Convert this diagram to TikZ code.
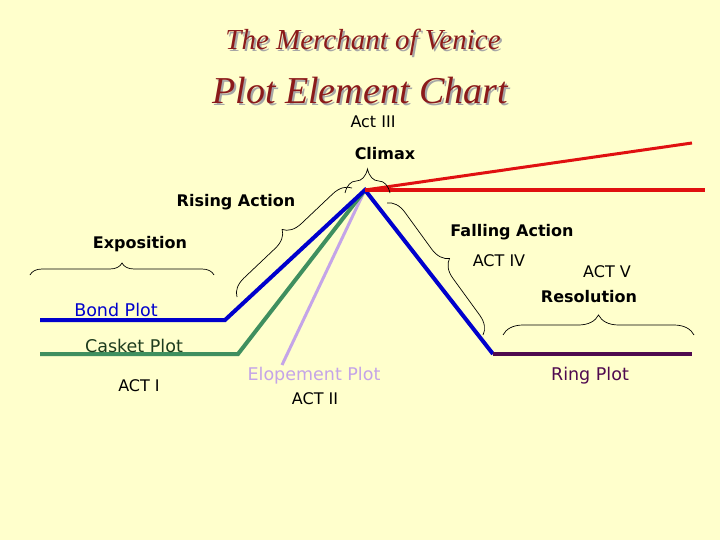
\documentclass[tikz,border=0pt]{standalone}
\usepackage{fontspec}
\setmainfont{DejaVu Sans}
\newfontfamily\titlefont{Liberation Serif}
\usetikzlibrary{decorations.pathreplacing}

\definecolor{paper}{HTML}{FFFFCC}
\definecolor{titlered}{HTML}{8B1A1A}
\definecolor{bondblue}{HTML}{0000CC}
\definecolor{casketgreen}{HTML}{3F8F5F}
\definecolor{casketdark}{HTML}{1E3C1E}
\definecolor{elopelilac}{HTML}{C4A4E8}
\definecolor{ringpurple}{HTML}{4F0A4F}
\definecolor{climaxred}{HTML}{E01010}

\begin{document}
\begin{tikzpicture}[x=1pt,y=-1pt,
  plot/.style={line width=4pt},
  bracket/.style={decorate,decoration={brace,amplitude=#1},line width=0.7pt},
  stage/.style={font=\bfseries\fontsize{16}{18}\selectfont},
  act/.style={font=\fontsize{16}{18}\selectfont},
  plotname/.style={font=\fontsize{17.5}{20}\selectfont}]

\fill[paper] (0,0) rectangle (720,540);

% titles
\node (merchant shadow) at (365,44) [text=black!35,font=\titlefont\itshape\fontsize{29}{32}\selectfont] {The Merchant of Venice};
\node (merchant) at (363,42) [text=titlered,font=\titlefont\itshape\fontsize{29}{32}\selectfont] {The Merchant of Venice};
\node (chart shadow) at (362,93) [text=black!35,font=\titlefont\itshape\fontsize{38}{42}\selectfont] {Plot Element Chart};
\node (chart) at (360,91) [text=titlered,font=\titlefont\itshape\fontsize{38}{42}\selectfont] {Plot Element Chart};

% plot lines
\coordinate (peak) at (365,190);
\coordinate (bond start) at (40,320);
\coordinate (bond knee) at (225,320);
\coordinate (casket start) at (40,354);
\coordinate (casket knee) at (238,354);
\coordinate (elope start) at (282,365);
\coordinate (ring start) at (493,354);
\coordinate (ring end) at (692,354);
\coordinate (red high) at (692,143);
\coordinate (red flat) at (705,190);

\draw[plot,elopelilac,line width=3pt] (elope start) -- (peak);
\draw[plot,casketgreen] (casket start) -- (casket knee) -- (peak);
\draw[plot,bondblue] (bond start) -- (bond knee) -- (peak) -- (ring start);
\draw[plot,ringpurple] (ring start) -- (ring end);
\draw[plot,climaxred,line width=3pt] (peak) -- (red high);
\draw[plot,climaxred] (peak) -- (red flat);

% braces
\draw[bracket=12] (30,275) -- (214,275);   % exposition
\draw[bracket=18] (237,297) -- (352,188);  % rising
\draw[bracket=24] (345,193) -- (390,193);  % climax
\draw[bracket=18] (387,203) -- (483,335);  % falling
\draw[bracket=20] (503,335) -- (694,335);  % resolution

% labels
\node (act3) at (373,122) [act] {Act III};
\node (climax) at (385,154) [stage] {Climax};
\node (rising) at (236,202) [stage] {Rising Action};
\node (exposition) at (140,244) [stage] {Exposition};
\node (falling) at (512,232) [stage] {Falling Action};
\node (act4) at (499,261) [act] {ACT IV};
\node (act5) at (607,272) [act] {ACT V};
\node (resolution) at (589,297) [stage] {Resolution};
\node (bond) at (116,310) [plotname,text=bondblue] {Bond Plot};
\node (casket) at (134,346) [plotname,text=casketdark] {Casket Plot};
\node (act1) at (139,386) [act] {ACT I};
\node (elope) at (314,376) [plotname,text=elopelilac] {Elopement Plot};
\node (act2) at (315,399) [act] {ACT II};
\node (ring) at (590,376) [plotname,text=ringpurple] {Ring Plot};

\end{tikzpicture}
\end{document}
